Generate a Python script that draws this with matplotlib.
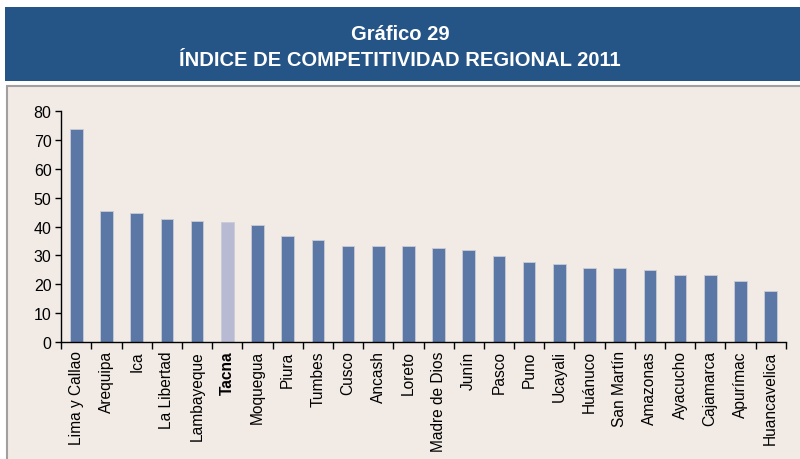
import matplotlib.pyplot as plt
import matplotlib.patches as patches
import numpy as np

regions = ["Lima y Callao", "Arequipa", "Ica", "La Libertad", "Lambayeque", "Tacna",
           "Moquegua", "Piura", "Tumbes", "Cusco", "Ancash", "Loreto", "Madre de Dios",
           "Junín", "Pasco", "Puno", "Ucayali", "Huánuco", "San Martín", "Amazonas",
           "Ayacucho", "Cajamarca", "Apurímac", "Huancavelica"]
values = [73.9, 45.3, 44.6, 42.6, 41.9, 41.5, 40.5, 36.9, 35.5, 33.4, 33.4, 33.4, 32.6,
          31.9, 29.8, 27.6, 26.9, 25.5, 25.5, 24.8, 23.4, 23.4, 21.2, 17.6]
highlight = "Tacna"
yticks = [0, 10, 20, 30, 40, 50, 60, 70, 80]

plt.rcParams['font.family'] = ['Liberation Sans', 'DejaVu Sans']

fig = plt.figure(figsize=(8, 4.6), dpi=100)
fig.patch.set_facecolor('white')

# title banner
banner = patches.Rectangle((5/800, 1 - 82/460), 795/800, 74/460, transform=fig.transFigure,
                           facecolor='#255487', edgecolor='none', zorder=-2)
fig.patches.append(banner)
fig.text(0.5, 1 - 35/460, "Gráfico 29", ha='center', va='center', color='white',
         fontsize=14.5, fontweight='bold')
fig.text(0.5, 1 - 61/460, "ÍNDICE DE COMPETITIVIDAD REGIONAL 2011", ha='center', va='center',
         color='white', fontsize=14.5, fontweight='bold')

# chart panel
panel = patches.Rectangle((6.5/800, -0.01), 800/800, (460 - 87)/460 + 0.01, transform=fig.transFigure,
                          facecolor='#F2EBE5', edgecolor='#A0A0A0', linewidth=1.5, zorder=-2)
fig.patches.append(panel)

ax = fig.add_axes([61.3/800, 1 - 343/460, (785.7 - 61.3)/800, (343 - 112.3)/460])
ax.set_facecolor('none')

x = np.arange(len(regions))
colors = ['#B8BAD3' if r == highlight else '#5B77A5' for r in regions]
ax.bar(x, values, width=0.42, color=colors, edgecolor='#C9CCD8', linewidth=0.6, zorder=2)

ax.set_xlim(-0.5, len(regions) - 0.5)
ax.set_ylim(0, 80)
ax.set_yticks(yticks)
ax.tick_params(axis='y', direction='out', length=4, width=1, labelsize=11.5, pad=3)
ax.set_xticks(x)
ax.set_xticklabels(regions, rotation=90, fontsize=11.2)
ax.set_xticks(np.arange(-0.5, len(regions)), minor=True)
ax.tick_params(axis='x', which='major', length=0, pad=6)
ax.tick_params(axis='x', which='minor', direction='out', length=5, width=1)
for lbl in ax.get_xticklabels():
    if lbl.get_text() == highlight:
        lbl.set_fontweight('bold')

for s in ['top', 'right']:
    ax.spines[s].set_visible(False)
ax.spines['left'].set_linewidth(1)
ax.spines['bottom'].set_linewidth(1)

fig.savefig('out.png', dpi=100, facecolor=fig.get_facecolor())
